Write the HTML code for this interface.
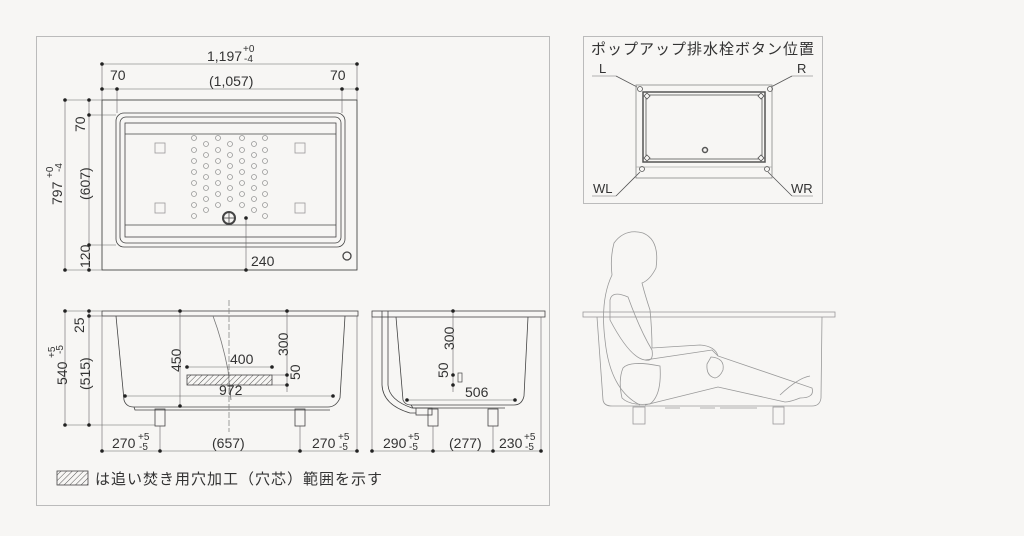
<!DOCTYPE html>
<html><head><meta charset="utf-8"><style>
html,body{margin:0;padding:0;background:#f7f6f4;}
svg{display:block;}
text{font-family:"Liberation Sans","Noto Sans CJK JP",sans-serif;fill:#333;}
</style></head><body>
<svg width="1024" height="536" viewBox="0 0 1024 536" xmlns="http://www.w3.org/2000/svg">
<defs>
<pattern id="h" width="4" height="4" patternUnits="userSpaceOnUse" patternTransform="rotate(45)">
<line x1="0" y1="0" x2="0" y2="4" stroke="#555" stroke-width="1"/></pattern>
</defs>
<rect width="1024" height="536" fill="#f7f6f4"/>
<rect x="36.5" y="36.5" width="513" height="469" fill="none" stroke="#bbb"/>
<rect x="583.5" y="36.5" width="239" height="167" fill="none" stroke="#bbb"/>

<g stroke="#444" fill="none" stroke-width="0.8">
<rect x="102" y="100" width="255" height="170" stroke="#333"/>
<rect x="116" y="113" width="229" height="134" rx="8"/>
<rect x="120" y="117" width="221" height="126" rx="6"/>
<rect x="125" y="123" width="211" height="114"/>
<line x1="125" y1="134" x2="336" y2="134"/>
<line x1="125" y1="225" x2="336" y2="225"/>
<circle cx="229" cy="218" r="6" stroke-width="2"/>
<line x1="223" y1="218" x2="235" y2="218"/><line x1="229" y1="212" x2="229" y2="224"/>
<circle cx="347" cy="256" r="4" stroke-width="1.3"/>
<g stroke="#999"><rect x="155" y="143" width="10" height="10"/><rect x="295" y="143" width="10" height="10"/><rect x="155" y="203" width="10" height="10"/><rect x="295" y="203" width="10" height="10"/></g>
<g stroke="#999">
<circle cx="194" cy="138" r="2.5"/><circle cx="194" cy="150" r="2.5"/><circle cx="194" cy="161" r="2.5"/><circle cx="194" cy="172" r="2.5"/><circle cx="194" cy="183" r="2.5"/><circle cx="194" cy="194" r="2.5"/><circle cx="194" cy="205" r="2.5"/><circle cx="194" cy="216" r="2.5"/>
<circle cx="206" cy="144" r="2.5"/><circle cx="206" cy="155" r="2.5"/><circle cx="206" cy="166" r="2.5"/><circle cx="206" cy="177" r="2.5"/><circle cx="206" cy="188" r="2.5"/><circle cx="206" cy="199" r="2.5"/><circle cx="206" cy="210" r="2.5"/>
<circle cx="218" cy="138" r="2.5"/><circle cx="218" cy="150" r="2.5"/><circle cx="218" cy="161" r="2.5"/><circle cx="218" cy="172" r="2.5"/><circle cx="218" cy="183" r="2.5"/><circle cx="218" cy="194" r="2.5"/><circle cx="218" cy="205" r="2.5"/>
<circle cx="230" cy="144" r="2.5"/><circle cx="230" cy="155" r="2.5"/><circle cx="230" cy="166" r="2.5"/><circle cx="230" cy="177" r="2.5"/><circle cx="230" cy="188" r="2.5"/><circle cx="230" cy="199" r="2.5"/>
<circle cx="242" cy="138" r="2.5"/><circle cx="242" cy="150" r="2.5"/><circle cx="242" cy="161" r="2.5"/><circle cx="242" cy="172" r="2.5"/><circle cx="242" cy="183" r="2.5"/><circle cx="242" cy="194" r="2.5"/><circle cx="242" cy="205" r="2.5"/>
<circle cx="254" cy="144" r="2.5"/><circle cx="254" cy="155" r="2.5"/><circle cx="254" cy="166" r="2.5"/><circle cx="254" cy="177" r="2.5"/><circle cx="254" cy="188" r="2.5"/><circle cx="254" cy="199" r="2.5"/><circle cx="254" cy="210" r="2.5"/>
<circle cx="265" cy="138" r="2.5"/><circle cx="265" cy="150" r="2.5"/><circle cx="265" cy="161" r="2.5"/><circle cx="265" cy="172" r="2.5"/><circle cx="265" cy="183" r="2.5"/><circle cx="265" cy="194" r="2.5"/><circle cx="265" cy="205" r="2.5"/><circle cx="265" cy="216" r="2.5"/>
</g>
<g stroke="#666" stroke-width="0.6">
<line x1="102" y1="64" x2="357" y2="64"/><line x1="102" y1="89" x2="357" y2="89"/>
<line x1="102" y1="64" x2="102" y2="100"/><line x1="357" y1="64" x2="357" y2="100"/>
<line x1="117" y1="89" x2="117" y2="113"/><line x1="342" y1="89" x2="342" y2="113"/>
<line x1="65" y1="100" x2="65" y2="270"/><line x1="89" y1="100" x2="89" y2="270"/>
<line x1="65" y1="100" x2="102" y2="100"/><line x1="65" y1="270" x2="102" y2="270"/>
<line x1="89" y1="115" x2="116" y2="115"/><line x1="89" y1="245" x2="116" y2="245"/>
<line x1="246" y1="218" x2="246" y2="270"/>
</g>
</g>
<g fill="#222">
<circle cx="102" cy="64" r="1.8"/><circle cx="357" cy="64" r="1.8"/>
<circle cx="102" cy="89" r="1.8"/><circle cx="117" cy="89" r="1.8"/><circle cx="342" cy="89" r="1.8"/><circle cx="357" cy="89" r="1.8"/>
<circle cx="65" cy="100" r="1.8"/><circle cx="65" cy="270" r="1.8"/><circle cx="89" cy="100" r="1.8"/><circle cx="89" cy="115" r="1.8"/><circle cx="89" cy="245" r="1.8"/><circle cx="89" cy="270" r="1.8"/>
<circle cx="246" cy="218" r="1.8"/><circle cx="246" cy="270" r="1.8"/>
</g>
<g font-size="14">
<text x="207" y="61">1,197</text><text x="243" y="52" font-size="10">+0</text><text x="244" y="62" font-size="10">-4</text>
<text x="110" y="80">70</text><text x="330" y="80">70</text><text x="209" y="86">(1,057)</text>
<text x="251" y="266">240</text>
<text transform="translate(85,132) rotate(-90)">70</text>
<text transform="translate(90,200) rotate(-90)">(607)</text>
<text transform="translate(62,205) rotate(-90)">797</text>
<text transform="translate(53,178) rotate(-90)" font-size="10">+0</text>
<text transform="translate(62,172) rotate(-90)" font-size="10">-4</text>
<text transform="translate(90,268) rotate(-90)">120</text>
</g>

<g stroke="#444" fill="none" stroke-width="0.8">
<rect x="102" y="311" width="256" height="5"/>
<path d="M116 316 L124 400 Q126 407 134 407 L328 407 Q336 407 340 398 L345 316"/>
<path d="M134 407 L135 410 L330 410"/>
<rect x="155" y="409" width="10" height="17"/><rect x="295" y="409" width="10" height="17"/>
<path d="M213 316 Q222 340 228 370 L231 400" stroke="#777"/>
<rect x="187" y="375" width="85" height="10" fill="url(#h)" stroke="#444"/>
<line x1="229" y1="300" x2="229" y2="432" stroke="#888" stroke-dasharray="6,2"/>
<g stroke="#666" stroke-width="0.6">
<line x1="65" y1="311" x2="102" y2="311"/><line x1="89" y1="316" x2="102" y2="316"/><line x1="65" y1="425" x2="155" y2="425"/>
<line x1="65" y1="311" x2="65" y2="425"/><line x1="89" y1="311" x2="89" y2="425"/>
<line x1="102" y1="451" x2="357" y2="451"/>
<line x1="102" y1="316" x2="102" y2="451"/><line x1="357" y1="316" x2="357" y2="451"/>
<line x1="160" y1="426" x2="160" y2="451"/><line x1="300" y1="426" x2="300" y2="451"/>
<line x1="180" y1="311" x2="180" y2="406"/><line x1="287" y1="311" x2="287" y2="392"/>
<line x1="187" y1="367" x2="272" y2="367"/><line x1="125" y1="396" x2="333" y2="396"/>
<line x1="272" y1="375" x2="287" y2="375"/><line x1="272" y1="385" x2="287" y2="385"/>
</g>
</g>
<g fill="#222">
<circle cx="65" cy="311" r="1.8"/><circle cx="89" cy="311" r="1.8"/><circle cx="89" cy="316" r="1.8"/><circle cx="65" cy="425" r="1.8"/><circle cx="89" cy="425" r="1.8"/>
<circle cx="102" cy="451" r="1.8"/><circle cx="160" cy="451" r="1.8"/><circle cx="300" cy="451" r="1.8"/><circle cx="357" cy="451" r="1.8"/>
<circle cx="180" cy="311" r="1.8"/><circle cx="180" cy="406" r="1.8"/><circle cx="287" cy="311" r="1.8"/><circle cx="287" cy="375" r="1.8"/><circle cx="287" cy="385" r="1.8"/>
<circle cx="187" cy="367" r="1.8"/><circle cx="272" cy="367" r="1.8"/><circle cx="125" cy="396" r="1.8"/><circle cx="333" cy="396" r="1.8"/>
</g>
<g font-size="14">
<text x="230" y="364">400</text><text x="219" y="395">972</text>
<text transform="translate(84,333) rotate(-90)">25</text>
<text transform="translate(90,390) rotate(-90)">(515)</text>
<text transform="translate(67,385) rotate(-90)">540</text>
<text transform="translate(55,358) rotate(-90)" font-size="10">+5</text>
<text transform="translate(63,354) rotate(-90)" font-size="10">-5</text>
<text transform="translate(181,372) rotate(-90)">450</text>
<text transform="translate(288,356) rotate(-90)">300</text>
<text transform="translate(300,380) rotate(-90)">50</text>
<text x="112" y="448">270</text><text x="138" y="440" font-size="10">+5</text><text x="139" y="450" font-size="10">-5</text>
<text x="212" y="448">(657)</text>
<text x="312" y="448">270</text><text x="338" y="440" font-size="10">+5</text><text x="339" y="450" font-size="10">-5</text>
</g>

<g stroke="#444" fill="none" stroke-width="0.8">
<rect x="372" y="311" width="173" height="6"/>
<path d="M396 317 L403 400 Q405 405 411 405 L514 405 Q522 405 524 396 L528 317"/>
<path d="M411 405 L413 408 L505 408"/>
<rect x="428" y="409" width="10" height="17"/><rect x="488" y="409" width="10" height="17"/>
<path d="M382 311 L382 385 Q383 405 410 413 L416 413"/>
<path d="M388 311 L388 385 Q389 400 412 408 L416 408"/>
<rect x="416" y="408" width="16" height="7"/>
<g stroke="#666" stroke-width="0.6">
<line x1="372" y1="317" x2="372" y2="451"/><line x1="541" y1="317" x2="541" y2="451"/>
<line x1="372" y1="451" x2="541" y2="451"/>
<line x1="433" y1="426" x2="433" y2="451"/><line x1="493" y1="426" x2="493" y2="451"/>
<line x1="453" y1="311" x2="453" y2="392"/><line x1="407" y1="400" x2="515" y2="400"/>
</g>
<rect x="458" y="373" width="4" height="9" stroke-width="0.7"/>
</g>
<g fill="#222">
<circle cx="372" cy="451" r="1.8"/><circle cx="433" cy="451" r="1.8"/><circle cx="493" cy="451" r="1.8"/><circle cx="541" cy="451" r="1.8"/>
<circle cx="453" cy="311" r="1.8"/><circle cx="453" cy="375" r="1.8"/><circle cx="453" cy="385" r="1.8"/>
<circle cx="407" cy="400" r="1.8"/><circle cx="515" cy="400" r="1.8"/>
</g>
<g font-size="14">
<text transform="translate(454,350) rotate(-90)">300</text>
<text transform="translate(448,378) rotate(-90)">50</text>
<text x="465" y="397">506</text>
<text x="383" y="448">290</text><text x="408" y="440" font-size="10">+5</text><text x="409" y="450" font-size="10">-5</text>
<text x="449" y="448">(277)</text>
<text x="499" y="448">230</text><text x="524" y="440" font-size="10">+5</text><text x="525" y="450" font-size="10">-5</text>
</g>

<rect x="57" y="471" width="31" height="14" fill="url(#h)" stroke="#444" stroke-width="0.8"/>
<text x="95" y="484" font-size="15" letter-spacing="1">は追い焚き用穴加工（穴芯）範囲を示す</text>

<text x="591" y="54" font-size="15" letter-spacing="1">ポップアップ排水栓ボタン位置</text>
<text x="599" y="73" font-size="13">L</text><text x="797" y="73" font-size="13">R</text>
<text x="593" y="193" font-size="13">WL</text><text x="791" y="193" font-size="13">WR</text>
<g stroke="#555" fill="none" stroke-width="0.8">
<line x1="592" y1="76" x2="616" y2="76" stroke="#999"/><line x1="792" y1="76" x2="813" y2="76" stroke="#999"/>
<line x1="592" y1="196" x2="616" y2="196" stroke="#999"/><line x1="792" y1="196" x2="813" y2="196" stroke="#999"/>
<line x1="616" y1="76" x2="637" y2="87"/><line x1="792" y1="76" x2="771" y2="87"/>
<line x1="616" y1="196" x2="640" y2="172"/><line x1="792" y1="196" x2="768" y2="172"/>
<rect x="636" y="85" width="136" height="93" stroke="#888"/>
<line x1="636" y1="167" x2="772" y2="167" stroke="#aaa"/>
<rect x="643" y="92" width="122" height="70" stroke-width="1.5"/>
<rect x="646" y="95" width="116" height="64"/>
<path d="M647 93 l3 3 -3 3 -3 -3z M761 93 l3 3 -3 3 -3 -3z M647 155 l3 3 -3 3 -3 -3z M761 155 l3 3 -3 3 -3 -3z" fill="#f7f6f4"/>
<circle cx="640" cy="89" r="2.5"/><circle cx="770" cy="89" r="2.5"/>
<circle cx="642" cy="169" r="2.5"/><circle cx="767" cy="169" r="2.5"/>
<circle cx="705" cy="150" r="2.5" stroke-width="1.5"/>
</g>

<g stroke="#999" fill="none" stroke-width="0.8">
<rect x="583" y="312" width="252" height="5"/>
<path d="M597 317 L603 400 Q604 406 612 406 L812 406 Q820 406 821 398 L822 317"/>
<rect x="633" y="407" width="12" height="17"/><rect x="773" y="407" width="11" height="17"/>
<path d="M665 408 h15 M700 408 h15 M720 408 h25 M745 408 h12"/>
<path d="M640 405 Q610 390 605 340 Q600 300 612 275 Q610 258 614 243 Q625 228 643 233 Q660 240 656 268 Q650 280 642 283 Q645 295 650 310 Q652 330 652 348 L700 345 Q715 346 718 356 L812 388 Q815 398 800 398 Q790 402 785 402 L718 387 L645 405"/>
<path d="M610 300 Q612 290 628 297 Q640 330 652 350 Q654 362 645 360 Q630 358 610 320 Z"/>
<path d="M645 360 L712 350 L718 356"/>
<path d="M623 368 Q630 360 660 366 Q662 395 650 404 Q630 406 622 398 Q618 380 623 368 Z"/>
<path d="M711 357 Q725 358 723 370 Q720 377 715 378 Q706 376 707 364 Z"/>
<path d="M780 395 Q798 378 810 376"/>
</g>
</svg>
</body></html>
